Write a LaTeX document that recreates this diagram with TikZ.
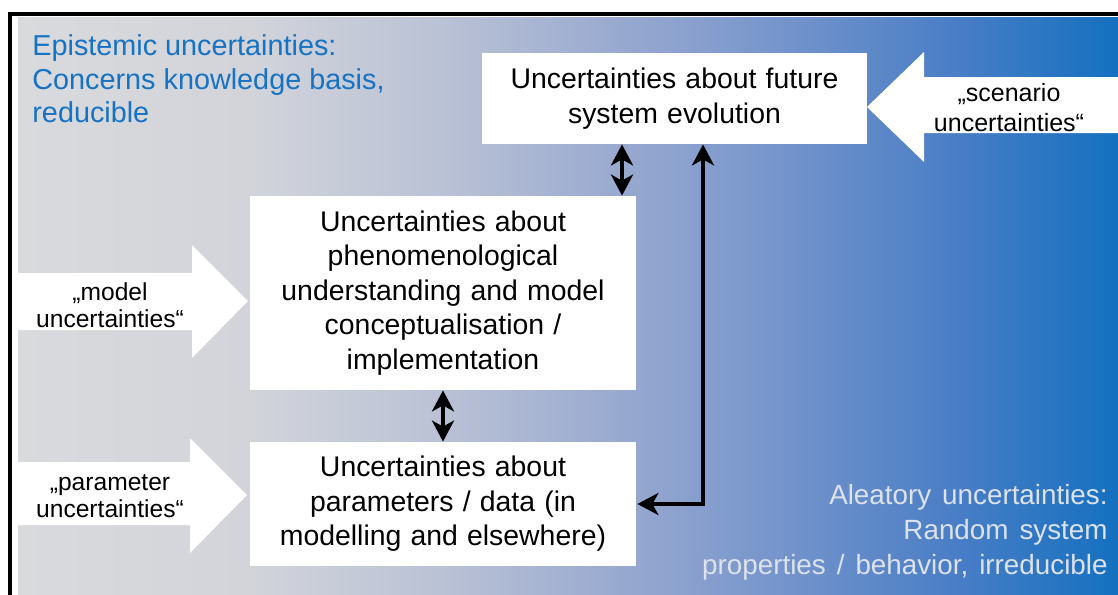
\documentclass[tikz,border=0pt]{standalone}
\usepackage{fontspec}
\setmainfont{Liberation Sans}
\usepackage{xcolor}
\usepackage{tikz}
\usetikzlibrary{positioning, arrows.meta, calc}

\definecolor{episblue}{HTML}{1672C2}
\definecolor{aleagray}{HTML}{DDE2EA}
\definecolor{bggray}{HTML}{D9DADC}
\definecolor{bgA}{HTML}{D2D4DA}
\definecolor{bgB}{HTML}{B9C1D5}
\definecolor{bgC}{HTML}{94A6CF}
\definecolor{bgD}{HTML}{7092CB}
\definecolor{bgE}{HTML}{4A7EC6}
\definecolor{bgblue}{HTML}{1470C0}
\pgfdeclarehorizontalshading{bgshade}{100bp}{color(0bp)=(bggray); color(25bp)=(bggray); color(35.5bp)=(bgA); color(44.5bp)=(bgB); color(53.4bp)=(bgC); color(60.5bp)=(bgD); color(67.5bp)=(bgE); color(75bp)=(bgblue); color(100bp)=(bgblue)}
\newcommand{\boxfont}{\fontsize{14.2}{17.3}\selectfont\spaceskip=4.6pt plus 1pt\relax}
\newcommand{\aleafont}{\fontsize{13.9}{17.5}\selectfont\spaceskip=5.5pt plus 1pt\relax}

\begin{document}
\begin{tikzpicture}[x=0.5pt, y=-0.5pt,
    boxnode/.style={rectangle, fill=white, align=center, inner sep=0pt, font=\boxfont},
    blocktext/.style={align=center, inner sep=0pt, font=\fontsize{12.3}{13.5}\selectfont},
    bothway/.style={line width=2.2pt, {Stealth[length=10.5pt, width=11pt, inset=3pt]}-{Stealth[length=10.5pt, width=11pt, inset=3pt]}}
]
\useasboundingbox[fill=white] (0,0) rectangle (1118,594);
\shade[shading=bgshade] (18,17) rectangle (1118,594);
\draw[line width=2pt] (10,620) -- (10,14) -- (1140,14);

\node[text=episblue, anchor=west, align=left, inner sep=0pt, font=\fontsize{14.4}{16.8}\selectfont](episte) at (32,79){Epistemic uncertainties:\\Concerns knowledge basis,\\reducible};
\node[text=aleagray, anchor=east, align=right, inner sep=0pt, font=\aleafont](aleat) at (1108,532){Aleatory uncertainties:\\Random system\hspace*{5pt}\\properties / behavior, irreducible};

\fill[white] (18,273) -- (192,273) -- (192,245) -- (248,301) -- (192,358) -- (192,330) -- (18,330) -- cycle;
\fill[white] (18,462) -- (190,462) -- (190,438) -- (247,495) -- (190,553) -- (190,525) -- (18,525) -- cycle;
\fill[white] (1118,77) -- (924,77) -- (924,52) -- (867,107) -- (924,162) -- (924,133) -- (1118,133) -- cycle;
\node[blocktext](modeltxt) at (110,305){„model\\uncertainties“};
\node[blocktext](paramtxt) at (110,496){„parameter\\uncertainties“};
\node[blocktext, font=\fontsize{12.5}{15}\selectfont](scentxt) at (1009,108){„scenario\\uncertainties“};

\node[boxnode, minimum width=192.5pt, minimum height=45.5pt](future) at (674.5,98.5){Uncertainties about future\\system evolution};
\node[boxnode, minimum width=193pt, minimum height=97pt](phenom) at (443,293){Uncertainties about\\phenomenological\\understanding and model\\conceptualisation /\\implementation};
\node[boxnode, minimum width=193pt, minimum height=62pt](params) at (443,504){Uncertainties about\\parameters / data (in\\modelling and elsewhere)};

\coordinate (upx) at (622,0);
\coordinate (loopx) at (703,0);
\draw[bothway] (upx |- future.south) -- (upx |- phenom.north);
\draw[bothway] (phenom.south) -- (params.north);
\draw[bothway] ([xshift=0.5pt]params.east) -| (loopx |- future.south);
\end{tikzpicture}
\end{document}
